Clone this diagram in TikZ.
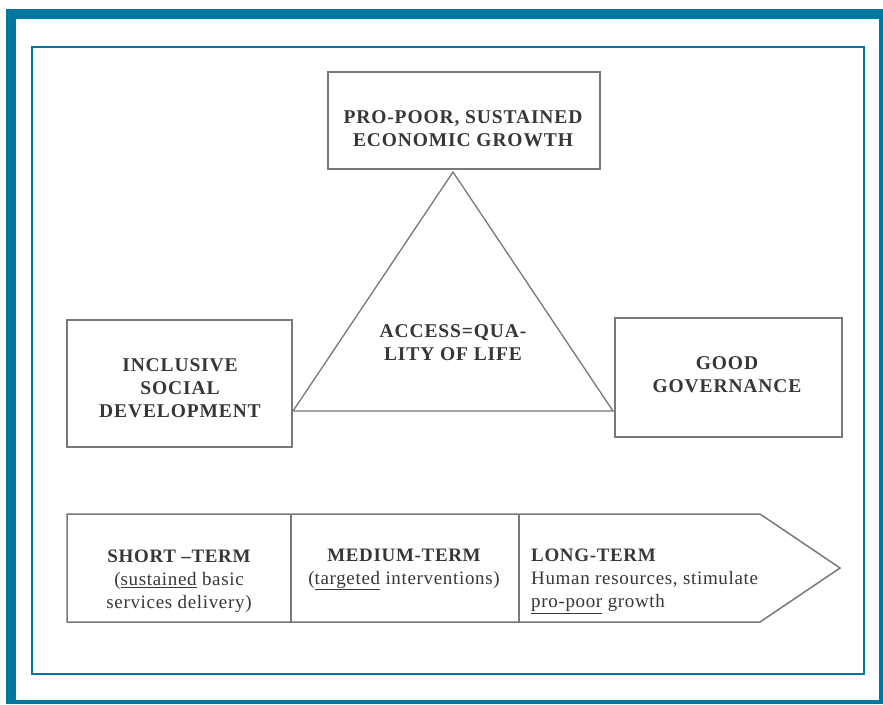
\documentclass[tikz,border=0pt]{standalone}
\usepackage{fontspec}
\setmainfont{Liberation Serif}
\definecolor{frameblue}{RGB}{0,119,160}
\definecolor{linegray}{RGB}{120,120,120}
\definecolor{inkgray}{RGB}{55,55,55}
% thin underline placed just below the baseline
\newcommand{\markedword}[1]{\underline{#1}}
\begin{document}
\begin{tikzpicture}[x=1pt,y=-1pt,
  box/.style={draw=linegray, line width=1.5pt, fill=white, inner sep=0pt},
  headtext/.style={text=inkgray, font=\fontsize{19.5}{23}\selectfont\bfseries\addfontfeature{LetterSpace=4.5}, align=center},
  bodytext/.style={text=inkgray, font=\fontsize{19}{23}\selectfont\addfontfeature{LetterSpace=3.5}, align=center}]
\useasboundingbox (0,0) rectangle (883,704);
% outer thick frame and inner thin frame
\fill[frameblue] (6,9) rectangle (883,704);
\fill[white] (16,19) rectangle (879,700);
\draw[frameblue, line width=2.5pt] (32,47) rectangle (864,674);

% the three pillars
\node[box, minimum width=272pt, minimum height=97pt] (growth) at (464,120.5) {};
\node[box, minimum width=225pt, minimum height=127pt] (social) at (179.5,383.5) {};
\node[box, minimum width=227pt, minimum height=119pt] (gov) at (728.5,377.5) {};
\node[headtext] (growthtxt) at (463,128.5) {PRO-POOR, SUSTAINED\\ECONOMIC GROWTH};
\node[headtext] (socialtxt) at (180,388) {INCLUSIVE\\SOCIAL\\DEVELOPMENT};
\node[headtext] (govtxt) at (727,375) {GOOD\\GOVERNANCE};

% central triangle
\coordinate (apex) at (453,172);
\coordinate (bl) at (293,411);
\coordinate (br) at (613,411);
\draw[linegray, line width=1.3pt, line join=miter] (apex) -- (bl) -- (br) -- cycle;
\node[headtext] (core) at (453,342.5) {ACCESS=QUA-\\LITY OF LIFE};

% time horizon arrow
\coordinate (t1) at (67,514);
\coordinate (t2) at (760,514);
\coordinate (tip) at (840,568);
\coordinate (t3) at (760,622);
\coordinate (t4) at (67,622);
\draw[linegray, line width=1.5pt] (t1) -- (t2) -- (tip) -- (t3) -- (t4) -- cycle;
\coordinate (d1a) at (291,514);
\coordinate (d1b) at (291,622);
\coordinate (d2a) at (519,514);
\coordinate (d2b) at (519,622);
\draw[linegray, line width=1.5pt] (d1a) -- (d1b);
\draw[linegray, line width=1.5pt] (d2a) -- (d2b);

\node[bodytext] (short) at (179,581)
  {{\bfseries SHORT –TERM}\\(\markedword{sustained} basic\\services delivery)};
\node[bodytext] (medium) at (404,569.5)
  {{\bfseries MEDIUM-TERM}\\(\markedword{targeted} interventions)};
\node[bodytext, align=left, anchor=west, inner sep=0pt] (long) at (531,581)
  {{\bfseries LONG-TERM}\\Human resources, stimulate\\\markedword{pro-poor} growth};
\end{tikzpicture}
\end{document}
